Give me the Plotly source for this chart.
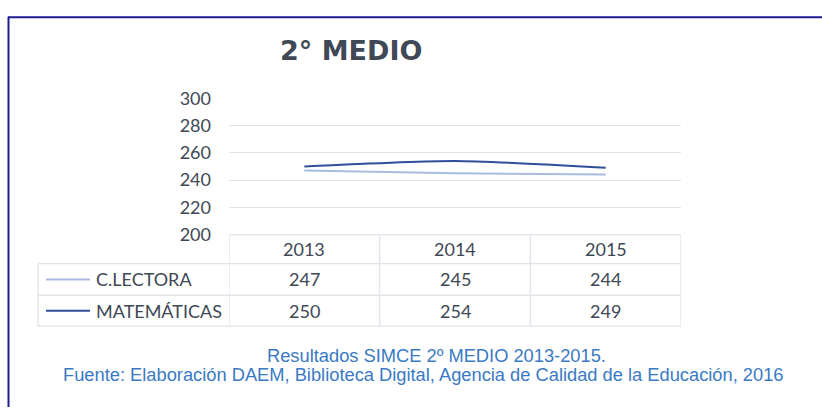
import plotly.graph_objects as go

# ---- data ----
years = ["2013", "2014", "2015"]
series_names = ["C.LECTORA", "MATEMÁTICAS"]
lectora = [247, 245, 244]
matematicas = [250, 254, 249]
series_values = [lectora, matematicas]
series_colors = ["#a9badf", "#2f4f98"]
y_ticks = [200, 220, 240, 260, 280, 300]
title_text = "2° MEDIO"
caption_1 = "Resultados SIMCE 2º MEDIO 2013-2015."
caption_2 = "Fuente: Elaboración DAEM, Biblioteca Digital, Agencia de Calidad de la Educación, 2016"

W, H = 822, 417
def px(x):
    return x / W
def py(y):
    return 1 - y / H

TEXT = "#404856"
GRID = "#dfe3ea"
FONT = "Lato"
CAP_FONT = "Liberation Sans, Arial"
CAP_COLOR = "#3a7ac4"

# plot area in pixels
PL, PR, PT, PB = 229, 681, 91, 235
# table rows (pixel y)
ROW = [235, 265.7, 299, 331.7]
TABLE_LEFT = 38

fig = go.Figure()
for name, vals, col in zip(series_names, series_values, series_colors):
    fig.add_trace(go.Scatter(
        x=years, y=vals, name=name, mode="lines",
        line=dict(color=col, width=2, shape="spline", smoothing=0.6),
        hoverinfo="skip",
    ))

shapes = []
ann = []

# frame (top & left)
shapes.append(dict(type="line", xref="paper", yref="paper", x0=px(8), x1=1, y0=py(5.5), y1=py(5.5),
                   line=dict(color="#1d1d92", width=2)))
shapes.append(dict(type="line", xref="paper", yref="paper", x0=px(8.5), x1=px(8.5), y0=py(5), y1=0,
                   line=dict(color="#1d1d92", width=2)))

# table horizontal lines
shapes.append(dict(type="line", xref="paper", yref="paper", x0=px(PL), x1=px(PR), y0=py(ROW[0]), y1=py(ROW[0]),
                   line=dict(color=GRID, width=1.3)))
for r in ROW[1:]:
    shapes.append(dict(type="line", xref="paper", yref="paper", x0=px(TABLE_LEFT), x1=px(PR), y0=py(r), y1=py(r),
                       line=dict(color=GRID, width=1.3)))
# vertical lines
shapes.append(dict(type="line", xref="paper", yref="paper", x0=px(TABLE_LEFT), x1=px(TABLE_LEFT),
                   y0=py(ROW[1]), y1=py(ROW[3]), line=dict(color=GRID, width=1.3)))
for xv in [-0.5, 0.5, 1.5, 2.5]:
    shapes.append(dict(type="line", xref="x", yref="paper", x0=xv, x1=xv,
                       y0=py(ROW[0]), y1=py(ROW[3]), line=dict(color=GRID, width=1.3)))

# header row: years
for i, yr in enumerate(years):
    ann.append(dict(x=i, y=py((ROW[0] + ROW[1]) / 2), xref="x", yref="paper", text=yr, showarrow=False,
                    font=dict(family=FONT, size=18, color=TEXT), xanchor="center", yanchor="middle"))
# data rows
for k, (name, vals, col) in enumerate(zip(series_names, series_values, series_colors)):
    yc = (ROW[k + 1] + ROW[k + 2]) / 2
    shapes.append(dict(type="line", xref="paper", yref="paper", x0=px(46), x1=px(90), y0=py(yc), y1=py(yc),
                       line=dict(color=col, width=2)))
    ann.append(dict(x=px(94), y=py(yc), xref="paper", yref="paper", text=name, showarrow=False,
                    font=dict(family=FONT, size=18, color=TEXT), xanchor="left", yanchor="middle"))
    for i, v in enumerate(vals):
        ann.append(dict(x=i, y=py(yc), xref="x", yref="paper", text=str(v), showarrow=False,
                        font=dict(family=FONT, size=18, color=TEXT), xanchor="center", yanchor="middle"))

# title
ann.append(dict(x=px(351), y=py(41), xref="paper", yref="paper", text=title_text, showarrow=False,
                font=dict(family="DejaVu Sans", size=27, color=TEXT, weight="bold"),
                xanchor="center", yanchor="middle"))
# captions
ann.append(dict(x=px(436), y=py(363), xref="paper", yref="paper", text=caption_1, showarrow=False,
                font=dict(family=CAP_FONT, size=18.3, color=CAP_COLOR), xanchor="center", yanchor="middle"))
ann.append(dict(x=px(423), y=py(383), xref="paper", yref="paper", text=caption_2, showarrow=False,
                font=dict(family=CAP_FONT, size=18.3, color=CAP_COLOR), xanchor="center", yanchor="middle"))

fig.update_layout(
    width=W, height=H, autosize=False,
    margin=dict(l=0, r=0, t=0, b=0),
    paper_bgcolor="white", plot_bgcolor="white",
    showlegend=False, hovermode=False,
    shapes=shapes, annotations=ann,
    xaxis=dict(domain=[px(PL), px(PR)], type="category", range=[-0.5, 2.5],
               showticklabels=False, showgrid=False, zeroline=False, showline=False, ticks=""),
    yaxis=dict(domain=[py(PB), py(PT)], range=[200, 300], tickvals=y_ticks,
               showgrid=True, gridcolor=GRID, gridwidth=1.3, zeroline=False, showline=False, ticks="",
               ticklabelstandoff=17,
               tickfont=dict(family=FONT, size=18, color=TEXT)),
)

fig.write_html(
    "out.html",
    config={"displayModeBar": False},
    post_script="document.body.style.margin='0';document.body.style.overflow='hidden';",
)
